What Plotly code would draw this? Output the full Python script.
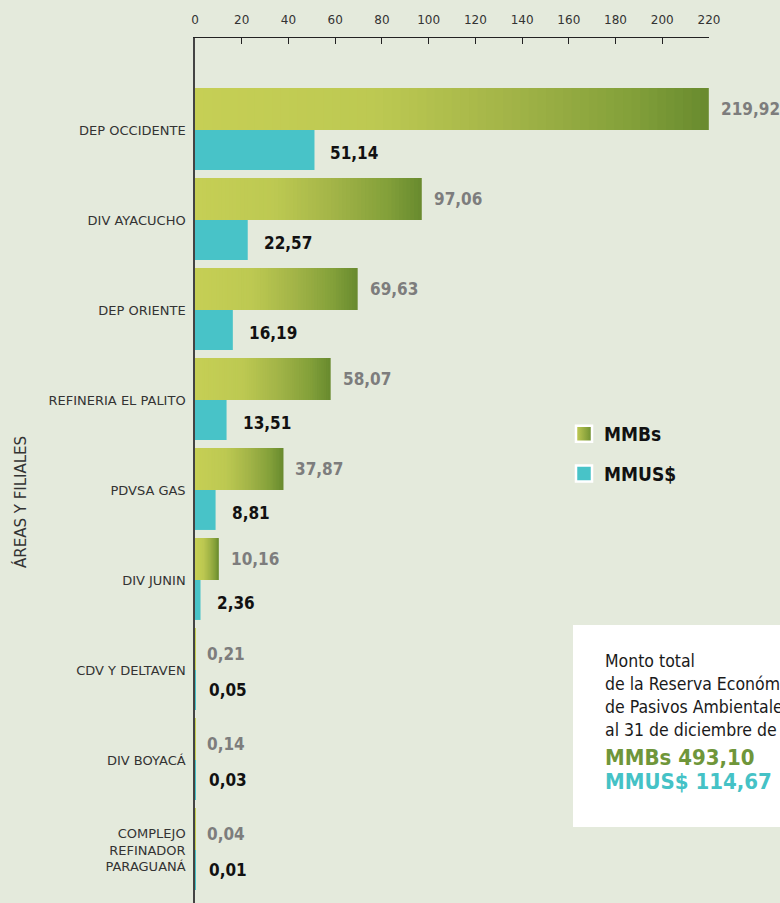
import plotly.graph_objects as go

# --- Data ---
categories = [
    "DEP OCCIDENTE",
    "DIV AYACUCHO",
    "DEP ORIENTE",
    "REFINERIA EL PALITO",
    "PDVSA GAS",
    "DIV JUNIN",
    "CDV Y DELTAVEN",
    "DIV BOYACÁ",
    "COMPLEJO<br>REFINADOR<br>PARAGUANÁ",
]
mmbs = [219.92, 97.06, 69.63, 58.07, 37.87, 10.16, 0.21, 0.14, 0.04]
mmus = [51.14, 22.57, 16.19, 13.51, 8.81, 2.36, 0.05, 0.03, 0.01]
x_ticks = list(range(0, 221, 20))

# --- Style ---
BG = "#e4eadc"
TEAL = "#48c3c8"
GREEN_TXT = "#6f963a"
TEAL_TXT = "#45c2c6"
GRAD = [(0.0, (198, 207, 85)), (0.35, (189, 201, 82)), (0.6, (164, 181, 72)),
        (0.85, (131, 160, 58)), (1.0, (104, 138, 46))]
N_SEG = 60
CONDENSED = "DejaVu Sans Condensed, Liberation Sans Narrow, DejaVu Sans"

# plot area in pixels
L, R, T, B, W, H = 195, 709, 38, 903, 780, 903


def px_x(p):
    return (p - L) / (R - L)


def px_y(p):
    return 1 - (p - T) / (B - T)


def grad_color(t):
    for (t0, c0), (t1, c1) in zip(GRAD[:-1], GRAD[1:]):
        if t <= t1:
            f = (t - t0) / (t1 - t0)
            c = [round(a + (b - a) * f) for a, b in zip(c0, c1)]
            return "rgb(%d,%d,%d)" % tuple(c)
    return "rgb(%d,%d,%d)" % GRAD[-1][1]


def fmt(v):
    return f"{v:.2f}".replace(".", ",")


idx = list(range(len(categories)))
off_a, off_b = -0.233, 0.222

fig = go.Figure()

# gradient MMBs bars: overlapping bars from 0, longest (darkest) drawn first,
# so each shorter/lighter one covers the left part without seams
seg_y, seg_x, seg_col = [], [], []
for k in range(N_SEG, 0, -1):
    for i, v in zip(idx, mmbs):
        seg_y.append(i + off_a)
        seg_x.append(v * k / N_SEG)
        seg_col.append(grad_color((k - 0.5) / N_SEG))
fig.add_trace(go.Bar(
    y=seg_y, x=seg_x, orientation="h", width=0.466,
    marker=dict(color=seg_col, line=dict(width=0)),
    showlegend=False, hoverinfo="skip",
))

fig.add_trace(go.Bar(
    y=[i + off_b for i in idx], x=mmus, orientation="h", width=0.444,
    marker=dict(color=TEAL, line=dict(width=0)),
    showlegend=False, hoverinfo="skip",
))

# legend entries
fig.add_trace(go.Scatter(
    x=[None], y=[None], mode="markers", name="MMBs", legendgroup="a",
    marker=dict(symbol="square", size=20, color="#c3cc55",
                gradient=dict(type="horizontal", color="#6d8f30"),
                line=dict(color="white", width=2.5)),
))
fig.add_trace(go.Scatter(
    x=[None], y=[None], mode="markers", name="MMUS$", legendgroup="b",
    marker=dict(symbol="square", size=20, color=TEAL,
                line=dict(color="white", width=2.5)),
))

annotations = []
for i, a, b in zip(idx, mmbs, mmus):
    small = a < 1
    annotations.append(dict(
        x=a, y=i + off_a + (0.06 if small else 0), xref="x", yref="y",
        text=fmt(a), showarrow=False, xanchor="left", xshift=10,
        font=dict(family=CONDENSED, size=17, color="#7d7d7d", weight="bold"),
    ))
    annotations.append(dict(
        x=b, y=i + off_b + (0.0 if small else 0.03), xref="x", yref="y",
        text=fmt(b), showarrow=False, xanchor="left", xshift=12 if small else 14,
        font=dict(family=CONDENSED, size=17, color="#111111", weight="bold"),
    ))

# y axis title
annotations.append(dict(
    x=px_x(21), y=px_y(502), xref="paper", yref="paper", text="ÁREAS Y FILIALES",
    textangle=-90, showarrow=False, xanchor="center", yanchor="middle",
    font=dict(family="DejaVu Sans", size=15, color="#333333"),
))

# total box
box_lines = [
    ("Monto total", 661, 17.5, "#1a1a1a", "normal"),
    ("de la Reserva Económica", 684, 17.5, "#1a1a1a", "normal"),
    ("de Pasivos Ambientales", 707, 17.5, "#1a1a1a", "normal"),
    ("al 31 de diciembre de 2012", 730, 17.5, "#1a1a1a", "normal"),
    ("MMBs " + fmt(sum(mmbs)), 757, 22, GREEN_TXT, "bold"),
    ("MMUS$ " + fmt(sum(mmus)), 781, 22, TEAL_TXT, "bold"),
]
for txt, yy, sz, col, wt in box_lines:
    annotations.append(dict(
        x=px_x(603), y=px_y(yy), xref="paper", yref="paper", text=txt,
        showarrow=False, xanchor="left", yanchor="middle",
        font=dict(family=CONDENSED, size=sz, color=col, weight=wt),
    ))

fig.update_layout(
    width=W, height=H,
    margin=dict(l=L, r=W - R, t=T, b=H - B, pad=0),
    paper_bgcolor=BG, plot_bgcolor=BG,
    barmode="overlay",
    font=dict(family="DejaVu Sans", color="#333333"),
    xaxis=dict(
        range=[0, 220], side="top", tickvals=x_ticks,
        ticks="inside", ticklen=6, tickcolor="#222222", tickwidth=1.2,
        showline=True, linecolor="#222222", linewidth=1.2,
        showgrid=False, zeroline=False, ticklabelstandoff=8,
        tickfont=dict(size=12, color="#333333"),
    ),
    yaxis=dict(
        range=[8.589, -1.022], tickvals=idx, ticktext=categories,
        ticks="", showline=True, linecolor="#444444", linewidth=1.5,
        showgrid=False, zeroline=False, ticklabelstandoff=5,
        tickfont=dict(size=13, color="#333333"),
    ),
    legend=dict(
        x=px_x(564), y=px_y(415), xanchor="left", yanchor="top",
        bgcolor="rgba(0,0,0,0)", tracegroupgap=12,
        font=dict(family=CONDENSED, size=19, color="#111111", weight="bold"),
    ),
    shapes=[dict(
        type="rect", xref="paper", yref="paper", layer="below",
        x0=px_x(573), x1=px_x(800), y0=px_y(827), y1=px_y(625),
        fillcolor="white", line=dict(width=0),
    )],
    annotations=annotations,
)

fig.write_html("out.html", config={"displayModeBar": False},
               post_script="document.body.style.margin='0';")
